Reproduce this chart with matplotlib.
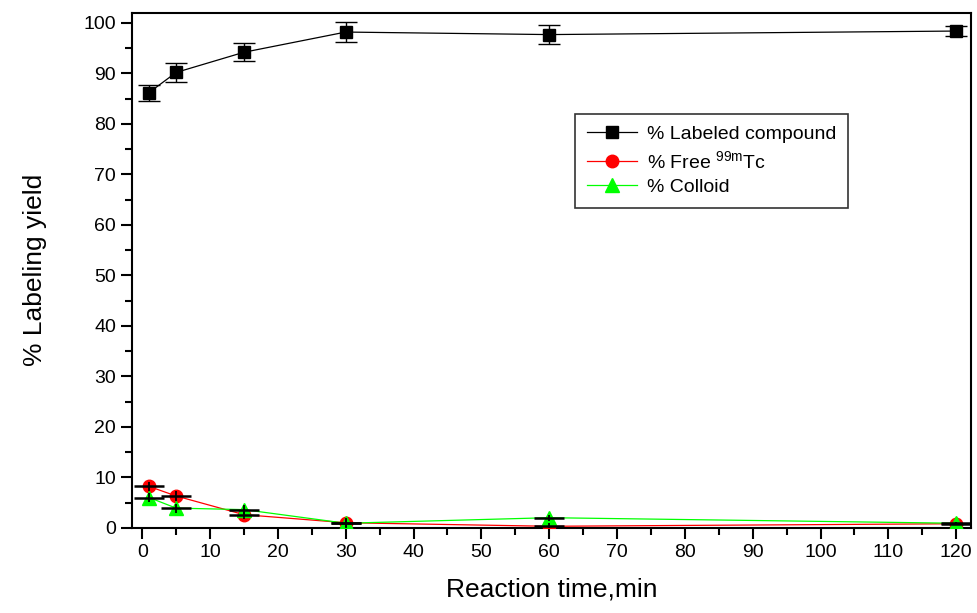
import matplotlib
matplotlib.use("Agg")
import matplotlib.pyplot as plt
from matplotlib.ticker import MultipleLocator

plt.rcParams["font.family"] = ["Liberation Sans", "DejaVu Sans"]
plt.rcParams["mathtext.default"] = "regular"

time = [1, 5, 15, 30, 60, 120]
labeled = [86.2, 90.2, 94.2, 98.2, 97.7, 98.4]
labeled_err = [1.6, 1.8, 1.8, 1.9, 1.9, 1.0]
free_tc = [8.2, 6.3, 2.6, 1.0, 0.3, 0.8]
colloid = [6.0, 3.9, 3.6, 0.9, 2.0, 0.9]
low_err = [0.9, 0.9, 0.9, 0.9, 0.6, 0.3]

fig = plt.figure(figsize=(9.78, 6.13), dpi=100)
ax = fig.add_axes([0.135, 0.139, 0.858, 0.84])

# black compound with error bars
ax.errorbar(time, labeled, yerr=labeled_err, fmt="none", ecolor="black",
            elinewidth=1, capsize=8, capthick=1, zorder=3)
ax.plot(time, labeled, color="black", lw=0.9, marker="s", ms=8,
        label="% Labeled compound", zorder=4)

# free Tc and colloid
ax.plot(time, free_tc, color="red", lw=0.9, marker="o", ms=9,
        label="% Free $^{99m}$Tc", zorder=4)
ax.plot(time, colloid, color="#00ff00", lw=0.9, marker="^", ms=10,
        label="% Colloid", zorder=4)

# black bars on the low series (caps sit at the point values)
ax.errorbar(time, free_tc, yerr=low_err, fmt="none", ecolor="black",
            elinewidth=1.3, capsize=0, zorder=5)
ax.errorbar(time, colloid, yerr=low_err, fmt="none", ecolor="black",
            elinewidth=1.3, capsize=0, zorder=5)
ax.plot(time, free_tc, ls="none", marker="_", ms=22, mew=1.8, color="black", zorder=6)
ax.plot(time, colloid, ls="none", marker="_", ms=22, mew=1.8, color="black", zorder=6)

ax.set_xlim(-1.5, 122.2)
ax.set_ylim(0, 102)
ax.xaxis.set_major_locator(MultipleLocator(10))
ax.xaxis.set_minor_locator(MultipleLocator(5))
ax.yaxis.set_major_locator(MultipleLocator(10))
ax.yaxis.set_minor_locator(MultipleLocator(5))
ax.tick_params(which="major", direction="out", length=8, width=1.5, labelsize=14)
ax.tick_params(which="minor", direction="out", length=5, width=1.5)
for s in ax.spines.values():
    s.set_linewidth(1.5)

ax.set_xlabel("Reaction time,min", fontsize=19, labelpad=12)
ax.set_ylabel("% Labeling yield", fontsize=19, labelpad=26)

leg = ax.legend(loc="upper left", bbox_to_anchor=(0.528, 0.804), fontsize=14,
                frameon=True, fancybox=False, edgecolor="black", borderaxespad=0,
                handlelength=2.6, handletextpad=0.5, labelspacing=0.35,
                borderpad=0.6)
leg.get_frame().set_linewidth(1.2)

fig.savefig("out.png", dpi=100)
